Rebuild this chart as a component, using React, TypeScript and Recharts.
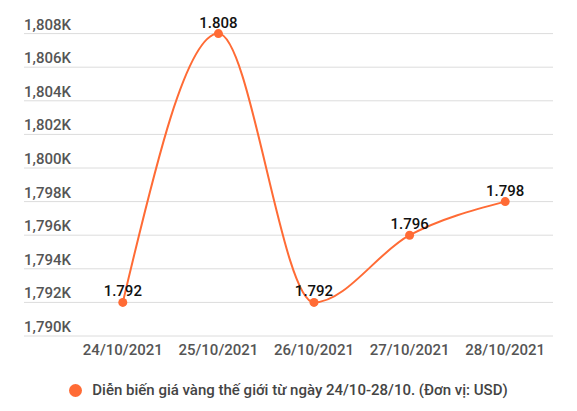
import React from 'react';
import {
  LineChart,
  Line,
  XAxis,
  YAxis,
  CartesianGrid,
  Legend,
  LabelList,
} from 'recharts';

const dates = ['24/10/2021', '25/10/2021', '26/10/2021', '27/10/2021', '28/10/2021'];
const prices = [1792, 1808, 1792, 1796, 1798];
const yTicks = [1790, 1792, 1794, 1796, 1798, 1800, 1802, 1804, 1806, 1808, 1810];
const seriesName = 'Diễn biến giá vàng thế giới từ ngày 24/10-28/10. (Đơn vị: USD)';

const data = dates.map((date, i) => ({ date, price: prices[i] }));

const ORANGE = '#ff6b35';
const FONT = 'Roboto, "Noto Sans", sans-serif';

// y labels sit above their grid line, left aligned, like the original
const YTick = (props: any) => {
  const { x, y, payload } = props;
  if (payload.value === 1810) return null;
  return (
    <text
      x={x}
      y={y - 9}
      textAnchor="start"
      dominantBaseline="central"
      fill="#555"
      fontSize={15}
      fontWeight={500}
      fontFamily={FONT}
    >
      {payload.value.toLocaleString('en-US') + 'K'}
    </text>
  );
};

const LegendContent = () => (
  <div
    style={{
      display: 'flex',
      alignItems: 'center',
      justifyContent: 'center',
      fontFamily: FONT,
      fontSize: 15,
      fontWeight: 500,
      color: '#444',
      paddingTop: 10,
    }}
  >
    <span
      style={{
        width: 13,
        height: 13,
        borderRadius: '50%',
        background: ORANGE,
        display: 'inline-block',
        marginRight: 10,
      }}
    />
    {seriesName}
  </div>
);

export default function App() {
  return (
    <div style={{ margin: -8, background: '#fff', width: 577, height: 411 }}>
      <LineChart
        width={577}
        height={411}
        data={data}
        margin={{ top: 0, right: 24, bottom: 0, left: 24 }}
      >
        <CartesianGrid vertical={false} stroke="#dcdcdc" />
        <XAxis
          dataKey="date"
          scale="band"
          axisLine={false}
          tickLine={false}
          height={35}
          padding={{ left: 51, right: 0 }}
          tick={{ fill: '#555', fontSize: 15, fontWeight: 500, fontFamily: FONT }}
        />
        <YAxis
          domain={[1790, 1810]}
          ticks={yTicks}
          mirror
          axisLine={false}
          tickLine={false}
          tickSize={0}
          tickMargin={0}
          tick={<YTick />}
        />
        <Legend verticalAlign="bottom" height={40} content={<LegendContent />} />
        <Line
          name={seriesName}
          type="monotone"
          dataKey="price"
          stroke={ORANGE}
          strokeWidth={2}
          dot={{ r: 4.5, fill: ORANGE, stroke: ORANGE, strokeWidth: 0 }}
          isAnimationActive={false}
        >
          <LabelList
            dataKey="price"
            position="top"
            offset={6}
            formatter={(v: number) => (v / 1000).toFixed(3)}
            fill="#111"
            fontSize={15}
            fontWeight={500}
            fontFamily={FONT}
          />
        </Line>
      </LineChart>
    </div>
  );
}
